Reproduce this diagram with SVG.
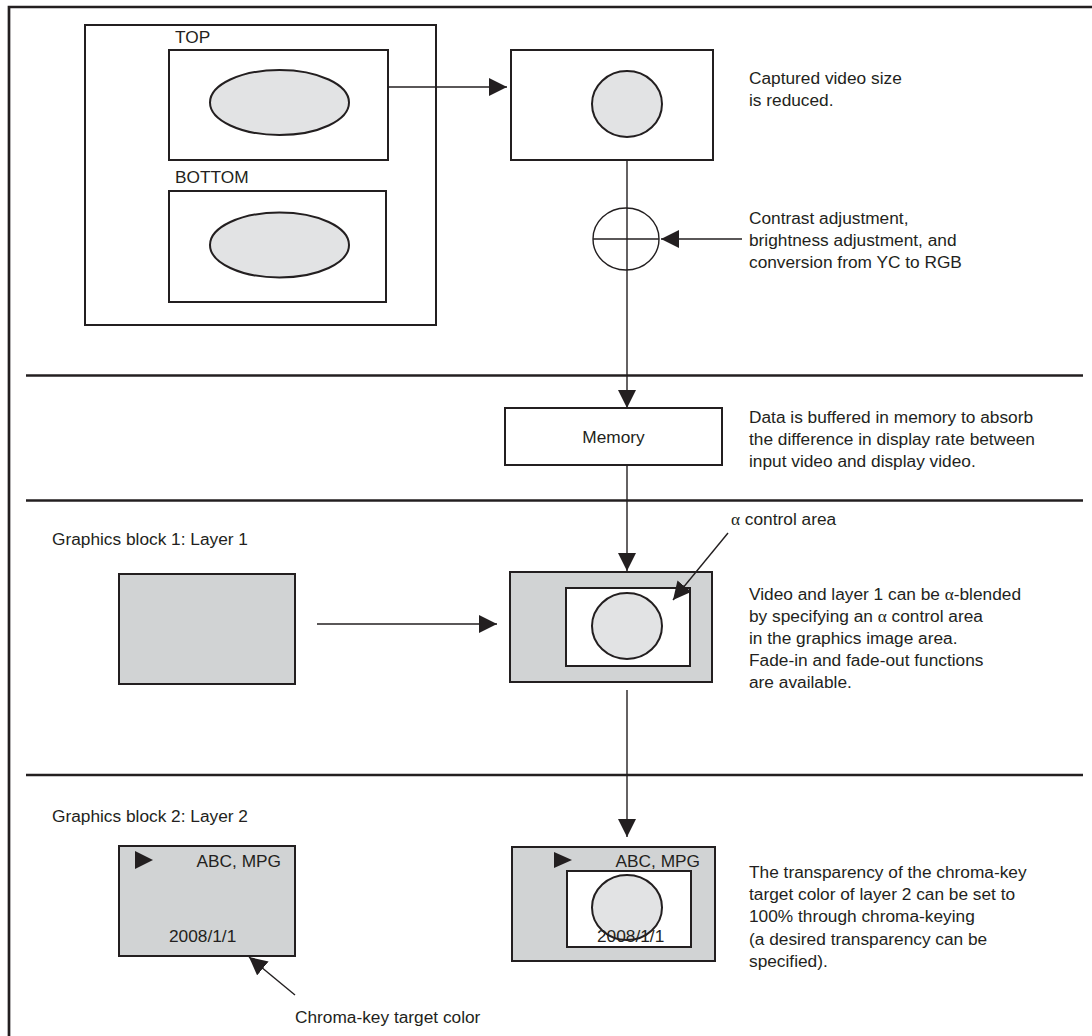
<svg xmlns="http://www.w3.org/2000/svg" width="1092" height="1036" viewBox="0 0 1092 1036">
<style>
text{font-family:"Liberation Sans",Arial,sans-serif;font-size:17.3px;fill:#231f20}
.a{font-family:"Liberation Serif","Times New Roman",serif}
.box{fill:#fff;stroke:#231f20;stroke-width:2}
.gbox{fill:#d1d3d4;stroke:#231f20;stroke-width:2}
.ell{fill:#e2e3e4;stroke:#231f20;stroke-width:2}
.ln{fill:none;stroke:#231f20;stroke-width:1.4}
.sep{fill:none;stroke:#231f20;stroke-width:2.7}
.tri{fill:#231f20}
</style>
<defs>
<marker id="ah" viewBox="0 0 18 18" refX="18" refY="9" markerWidth="18" markerHeight="18" markerUnits="userSpaceOnUse" orient="auto">
<path d="M0,0 L18,9 L0,18 Z" fill="#231f20"/>
</marker>
</defs>
<rect width="1092" height="1036" fill="#fff"/>
<g id="frame">
<path class="sep" d="M9,1036 V7 H1092"/>
<line class="sep" x1="26" y1="375.5" x2="1083" y2="375.5"/>
<line class="sep" x1="26" y1="500.5" x2="1083" y2="500.5"/>
<line class="sep" x1="26" y1="775" x2="1083" y2="775"/>
</g>
<g id="capture">
<rect class="box" x="85" y="25" width="351" height="300"/>
<text x="175" y="43">TOP</text>
<rect class="box" x="169" y="50" width="219" height="110"/>
<ellipse class="ell" cx="279.5" cy="102.5" rx="69.5" ry="32.5"/>
<text x="175" y="183">BOTTOM</text>
<rect class="box" x="169" y="191" width="217" height="111"/>
<ellipse class="ell" cx="279.5" cy="245" rx="69.5" ry="32.5"/>
</g>
<g id="reduced">
<rect class="box" x="511" y="50" width="202" height="110"/>
<ellipse class="ell" cx="627" cy="104" rx="35" ry="33"/>
<text x="749" y="84">Captured video size</text>
<text x="749" y="106">is reduced.</text>
</g>
<g id="adjust">
<ellipse cx="626" cy="239" rx="33" ry="31" fill="#fff" stroke="#231f20" stroke-width="1.4"/>
<line class="ln" x1="593" y1="239" x2="659" y2="239"/>
<text x="749" y="224">Contrast adjustment,</text>
<text x="749" y="246">brightness adjustment, and</text>
<text x="749" y="268">conversion from YC to RGB</text>
</g>
<g id="memory">
<rect class="box" x="505" y="408" width="217" height="57"/>
<text x="613.5" y="443" text-anchor="middle">Memory</text>
<text x="749" y="423">Data is buffered in memory to absorb</text>
<text x="749" y="445">the difference in display rate between</text>
<text x="749" y="467">input video and display video.</text>
</g>
<g id="layer1">
<text x="52" y="545">Graphics block 1: Layer 1</text>
<rect class="gbox" x="119" y="574" width="176" height="110"/>
</g>
<g id="blend1">
<rect class="gbox" x="510" y="572" width="202" height="110"/>
<rect class="box" x="566" y="588" width="124" height="78"/>
<ellipse class="ell" cx="627" cy="626" rx="35" ry="33"/>
<text x="731" y="525"><tspan class="a">α</tspan> control area</text>
<text x="749" y="600">Video and layer 1 can be <tspan class="a">α</tspan>-blended</text>
<text x="749" y="622">by specifying an <tspan class="a">α</tspan> control area</text>
<text x="749" y="644">in the graphics image area.</text>
<text x="749" y="666">Fade-in and fade-out functions</text>
<text x="749" y="688">are available.</text>
</g>
<g id="layer2">
<text x="52" y="822">Graphics block 2: Layer 2</text>
<rect class="gbox" x="119" y="846" width="176" height="110"/>
<path class="tri" d="M135,851 L153,860 L135,869 Z"/>
<text x="281" y="867" text-anchor="end">ABC, MPG</text>
<text x="169" y="942">2008/1/1</text>
<text x="295" y="1023">Chroma-key target color</text>
</g>
<g id="blend2">
<rect class="gbox" x="512" y="847" width="203" height="114"/>
<rect class="box" x="567" y="871" width="124" height="76"/>
<ellipse class="ell" cx="627" cy="907.5" rx="35" ry="32.5"/>
<path class="tri" d="M554,852 L572,860 L554,868 Z"/>
<text x="700" y="867" text-anchor="end">ABC, MPG</text>
<text x="597" y="942">2008/1/1</text>
<text x="749" y="878">The transparency of the chroma-key</text>
<text x="749" y="900">target color of layer 2 can be set to</text>
<text x="749" y="922">100% through chroma-keying</text>
<text x="749" y="945">(a desired transparency can be</text>
<text x="749" y="967">specified).</text>
</g>
<g id="connectors">
<line class="ln" x1="388" y1="87" x2="507" y2="87" marker-end="url(#ah)"/>
<line class="ln" x1="627" y1="160" x2="627" y2="408" marker-end="url(#ah)"/>
<line class="ln" x1="742" y1="239" x2="661" y2="239" marker-end="url(#ah)"/>
<line class="ln" x1="627" y1="465" x2="627" y2="571" marker-end="url(#ah)"/>
<line class="ln" x1="728" y1="533" x2="673" y2="600" marker-end="url(#ah)"/>
<line class="ln" x1="317" y1="624" x2="497" y2="624" marker-end="url(#ah)"/>
<line class="ln" x1="627" y1="690" x2="627" y2="837" marker-end="url(#ah)"/>
<line class="ln" x1="295" y1="995" x2="249" y2="957" marker-end="url(#ah)"/>
</g>
</svg>
